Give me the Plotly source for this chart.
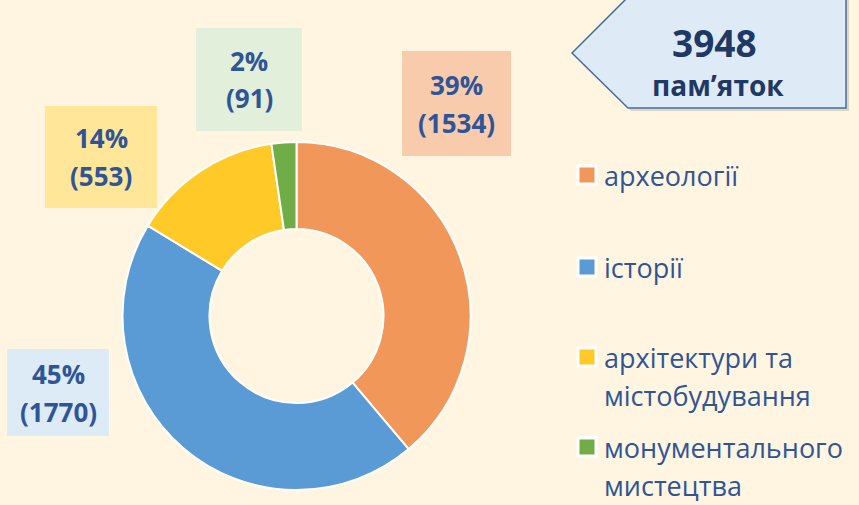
import plotly.graph_objects as go

W, H = 859, 505

categories = ["археології", "історії", "архітектури та<br>містобудування", "монументального<br>мистецтва"]
values = [1534, 1770, 553, 91]
percents = [39, 45, 14, 2]
total_label = "3948"
total_unit = "пам’яток"

slice_colors = ["#F1975A", "#5B9BD5", "#FFCA28", "#70AD47"]
box_colors = ["#F8CBAD", "#DDEBF7", "#FFE699", "#E2EFDA"]
# label boxes (x0, y0, x1, y1) in pixels
boxes = [(402, 51, 511, 156), (7, 349, 109, 436), (45, 106, 157, 208), (196, 28, 302, 131)]
legend_y = [175, 267, 357, 447]

TXT = "#2F5597"
BG = "#FFF5E1"


def px(x):
    return x / W


def py(y):
    return 1 - y / H


cx, cy, r = 296.5, 316, 174
fig = go.Figure(go.Pie(
    values=values,
    labels=[c.replace("<br>", " ") for c in categories],
    hole=0.5,
    sort=False,
    direction="clockwise",
    rotation=0,
    marker=dict(colors=slice_colors, line=dict(color="white", width=2)),
    textinfo="none",
    hoverinfo="label+value+percent",
    domain=dict(x=[px(cx - r), px(cx + r)], y=[py(cy + r), py(cy - r)]),
    showlegend=False,
))

shapes = []
annotations = []
for i, (b, c) in enumerate(zip(boxes, box_colors)):
    x0, y0, x1, y1 = b
    shapes.append(dict(type="rect", xref="paper", yref="paper",
                       x0=px(x0), x1=px(x1), y0=py(y1), y1=py(y0),
                       fillcolor=c, line=dict(width=0), layer="below"))
    xm = (x0 + x1) / 2
    ym = (y0 + y1) / 2
    annotations.append(dict(xref="paper", yref="paper", x=px(xm), y=py(ym - 19),
                            text=f"<b>{percents[i]}%</b>", showarrow=False,
                            font=dict(size=26, color=TXT, family="Open Sans"),
                            xanchor="center", yanchor="middle"))
    annotations.append(dict(xref="paper", yref="paper", x=px(xm), y=py(ym + 19),
                            text=f"<b>({values[i]})</b>", showarrow=False,
                            font=dict(size=26, color=TXT, family="Open Sans"),
                            xanchor="center", yanchor="middle"))

# legend
for i, (cat, col) in enumerate(zip(categories, slice_colors)):
    ly = legend_y[i]
    shapes.append(dict(type="rect", xref="paper", yref="paper",
                       x0=px(578), x1=px(596), y0=py(ly + 9), y1=py(ly - 9),
                       fillcolor=col, line=dict(color="white", width=3)))
    for j, line in enumerate(cat.split("<br>")):
        annotations.append(dict(xref="paper", yref="paper", x=px(602), y=py(ly + 38 * j),
                                text=line, showarrow=False, align="left",
                                font=dict(size=27, color=TXT, family="Open Sans"),
                                xanchor="left", yanchor="middle"))

# callout arrow (with a soft shadow)
pts = [(572, 53), (628, -3), (846, -3), (846, 108), (628, 108)]
spts = [(x + 3, y + 3) for x, y in pts]
spath = "M " + " L ".join(f"{px(x)},{py(y)}" for x, y in spts) + " Z"
shapes.append(dict(type="path", xref="paper", yref="paper", path=spath,
                   fillcolor="rgba(120,120,120,0.25)", line=dict(width=0)))
path = "M " + " L ".join(f"{px(x)},{py(y)}" for x, y in pts) + " Z"
shapes.append(dict(type="path", xref="paper", yref="paper", path=path,
                   fillcolor="#DEEBF7", line=dict(color="#41719C", width=1.5)))
annotations.append(dict(xref="paper", yref="paper", x=px(714), y=py(43),
                        text=f"<b>{total_label}</b>", showarrow=False,
                        font=dict(size=37, color="#1F3864", family="Open Sans"),
                        xanchor="center", yanchor="middle"))
annotations.append(dict(xref="paper", yref="paper", x=px(718), y=py(85),
                        text=f"<b>{total_unit}</b>", showarrow=False,
                        font=dict(size=28, color="#1F3864", family="Open Sans"),
                        xanchor="center", yanchor="middle"))

fig.update_layout(
    width=W, height=H,
    margin=dict(l=0, r=0, t=0, b=0),
    paper_bgcolor=BG, plot_bgcolor=BG,
    shapes=shapes, annotations=annotations,
    showlegend=False,
)

fig.write_html("out.html", config={"displayModeBar": False},
               post_script="document.body.style.margin='0';document.body.style.overflow='hidden';")
